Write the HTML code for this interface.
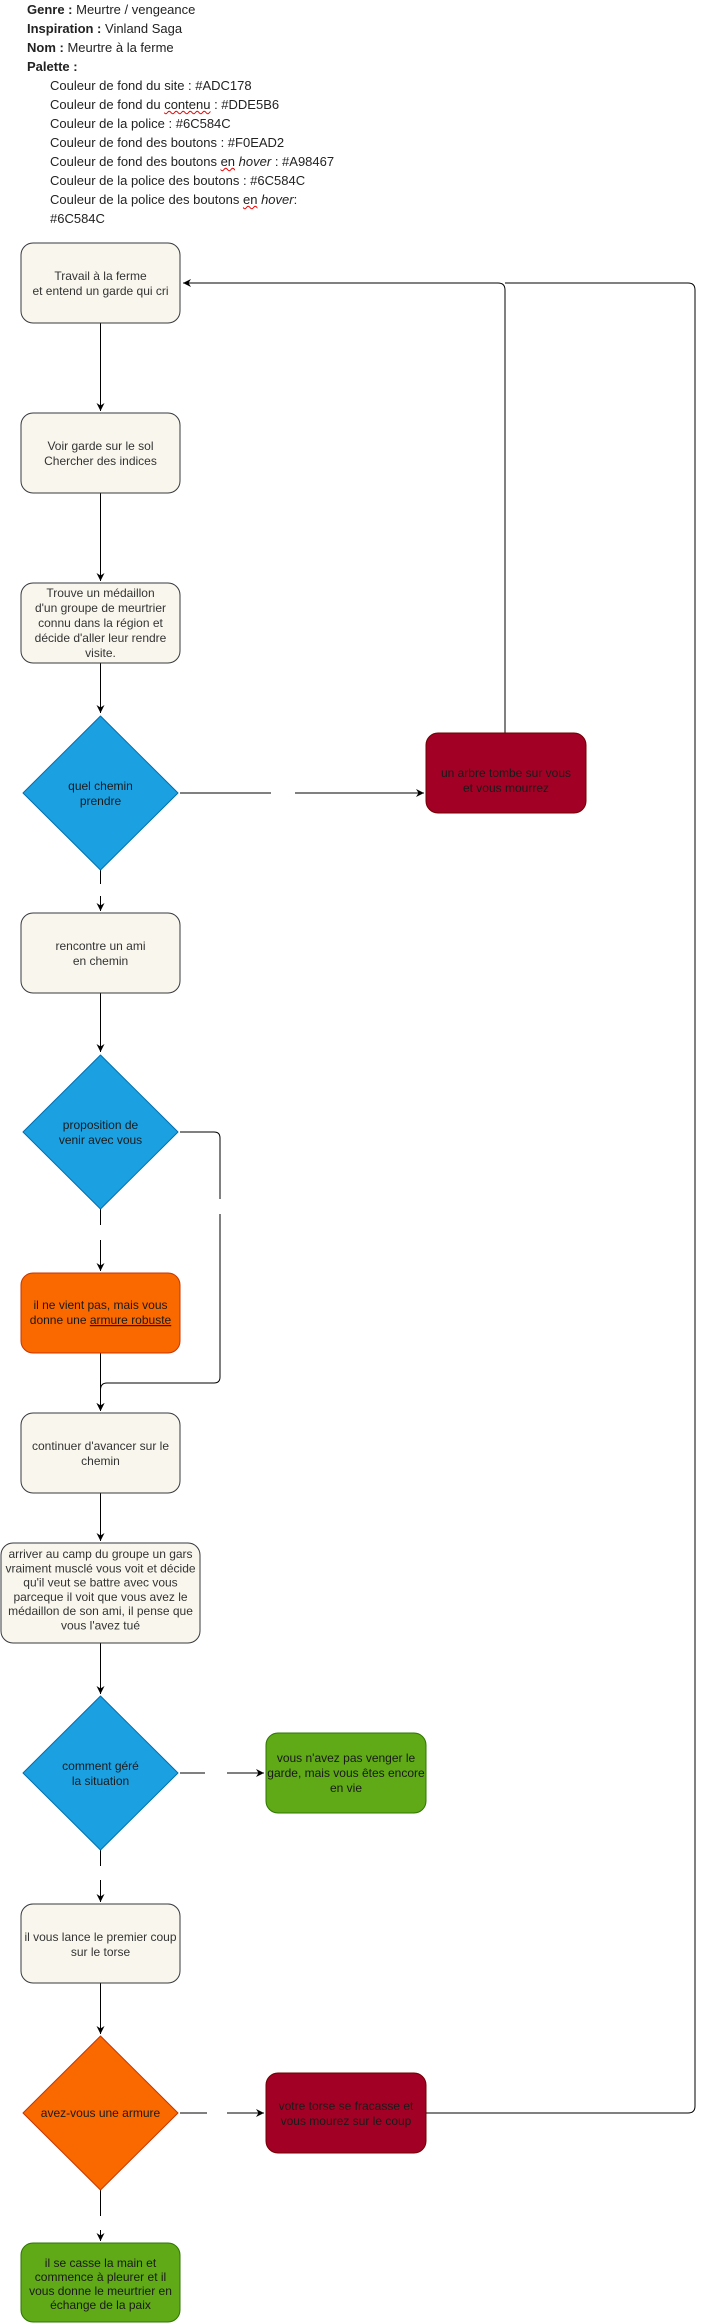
<!DOCTYPE html>
<html><head><meta charset="utf-8"><style>
html,body{margin:0;padding:0;background:#fff;width:704px;height:2324px;overflow:hidden}
.hd{position:absolute;left:0;top:0;font-family:"Liberation Sans",sans-serif;font-size:13px;color:#222}
.hd div{position:absolute;white-space:nowrap;line-height:19px}
.sq{text-decoration:underline wavy #e00;text-decoration-thickness:1px}
svg{position:absolute;left:0;top:0}
</style></head><body>
<div class="hd">
<div style="left:27px;top:0"><b>Genre :</b> Meurtre / vengeance</div>
<div style="left:27px;top:19px"><b>Inspiration :</b> Vinland Saga</div>
<div style="left:27px;top:38px"><b>Nom :</b> Meurtre à la ferme</div>
<div style="left:27px;top:57px"><b>Palette :</b></div>
<div style="left:50px;top:76px">Couleur de fond du site : #ADC178</div>
<div style="left:50px;top:95px">Couleur de fond du <span class="sq">contenu</span> : #DDE5B6</div>
<div style="left:50px;top:114px">Couleur de la police : #6C584C</div>
<div style="left:50px;top:133px">Couleur de fond des boutons : #F0EAD2</div>
<div style="left:50px;top:152px">Couleur de fond des boutons <span class="sq">en</span> <i>hover</i> : #A98467</div>
<div style="left:50px;top:171px">Couleur de la police des boutons : #6C584C</div>
<div style="left:50px;top:190px">Couleur de la police des boutons <span class="sq">en</span> <i>hover</i>:</div>
<div style="left:50px;top:209px">#6C584C</div>
</div>
<svg width="704" height="2324" viewBox="0 0 704 2324" font-family="Liberation Sans, sans-serif" font-size="12">
<defs><marker id="a" markerWidth="10" markerHeight="10" refX="8" refY="5" orient="auto" markerUnits="userSpaceOnUse"><path d="M0,1 L8,5 L0,9 L2.5,5 Z" fill="#000"/></marker></defs>
<g fill="none" stroke="#000" stroke-width="1">
<path d="M100.5 323 V411" marker-end="url(#a)"/>
<path d="M100.5 493 V581" marker-end="url(#a)"/>
<path d="M100.5 663 V713" marker-end="url(#a)"/>
<path d="M100.5 870 V884 M100.5 896 V911" marker-end="url(#a)"/>
<path d="M180 793 H271 M295 793 H424" marker-end="url(#a)"/>
<path d="M505 733 V290 Q505 283 498 283 H183" marker-end="url(#a)"/>
<path d="M426 2113 H688 Q695 2113 695 2106 V290 Q695 283 688 283 H505"/>
<path d="M100.5 993 V1052" marker-end="url(#a)"/>
<path d="M180 1132 H214 Q220 1132 220 1138 V1199 M220 1214 V1377 Q220 1383 214 1383 H107 Q100.5 1383 100.5 1390 V1411" marker-end="url(#a)"/>
<path d="M100.5 1209 V1225 M100.5 1240 V1271" marker-end="url(#a)"/>
<path d="M100.5 1353 V1411" marker-end="url(#a)"/>
<path d="M100.5 1493 V1541" marker-end="url(#a)"/>
<path d="M100.5 1643 V1694" marker-end="url(#a)"/>
<path d="M180 1773 H205 M227 1773 H264" marker-end="url(#a)"/>
<path d="M100.5 1850 V1866 M100.5 1880 V1902" marker-end="url(#a)"/>
<path d="M100.5 1983 V2034" marker-end="url(#a)"/>
<path d="M180 2113 H207 M227 2113 H264" marker-end="url(#a)"/>
<path d="M100.5 2190 V2216 M100.5 2230 V2241" marker-end="url(#a)"/>
</g>
<g stroke-width="1">
<rect x="21" y="243" width="159" height="80" rx="12" fill="#f9f7ed" stroke="#36393d"/>
<rect x="21" y="413" width="159" height="80" rx="12" fill="#f9f7ed" stroke="#36393d"/>
<rect x="21" y="583" width="159" height="80" rx="12" fill="#f9f7ed" stroke="#36393d"/>
<path d="M100.5 716 L178 793 L100.5 870 L23 793 Z" fill="#1ba1e2" stroke="#006eaf" stroke-linejoin="round"/>
<rect x="426" y="733" width="160" height="80" rx="12" fill="#a20025" stroke="#6f0000"/>
<rect x="21" y="913" width="159" height="80" rx="12" fill="#f9f7ed" stroke="#36393d"/>
<path d="M100.5 1055 L178 1132 L100.5 1209 L23 1132 Z" fill="#1ba1e2" stroke="#006eaf" stroke-linejoin="round"/>
<rect x="21" y="1273" width="159" height="80" rx="12" fill="#fa6800" stroke="#c73500"/>
<rect x="21" y="1413" width="159" height="80" rx="12" fill="#f9f7ed" stroke="#36393d"/>
<rect x="1" y="1543" width="199" height="100" rx="12" fill="#f9f7ed" stroke="#36393d"/>
<path d="M100.5 1696 L178 1773 L100.5 1850 L23 1773 Z" fill="#1ba1e2" stroke="#006eaf" stroke-linejoin="round"/>
<rect x="266" y="1733" width="160" height="80" rx="12" fill="#60a917" stroke="#2d7600"/>
<rect x="21" y="1904" width="159" height="79" rx="12" fill="#f9f7ed" stroke="#36393d"/>
<path d="M100.5 2036 L178 2113 L100.5 2190 L23 2113 Z" fill="#fa6800" stroke="#c73500" stroke-linejoin="round"/>
<rect x="266" y="2073" width="160" height="80" rx="12" fill="#a20025" stroke="#6f0000"/>
<rect x="21" y="2243" width="159" height="79" rx="12" fill="#60a917" stroke="#2d7600"/>
</g>
<g text-anchor="middle" fill="#333">
<text x="100.5" y="280">Travail à la ferme<tspan x="100.5" dy="15">et entend un garde qui cri</tspan></text>
<text x="100.5" y="450">Voir garde sur le sol<tspan x="100.5" dy="15">Chercher des indices</tspan></text>
<text x="100.5" y="597">Trouve un médaillon<tspan x="100.5" dy="15">d'un groupe de meurtrier</tspan><tspan x="100.5" dy="15">connu dans la région et</tspan><tspan x="100.5" dy="15">décide d'aller leur rendre</tspan><tspan x="100.5" dy="15">visite.</tspan></text>
<text x="100.5" y="950">rencontre un ami<tspan x="100.5" dy="15">en chemin</tspan></text>
<text x="100.5" y="1450">continuer d'avancer sur le<tspan x="100.5" dy="15">chemin</tspan></text>
<text x="100.5" y="1558">arriver au camp du groupe un gars<tspan x="100.5" dy="14.3">vraiment musclé vous voit et décide</tspan><tspan x="100.5" dy="14.3">qu'il veut se battre avec vous</tspan><tspan x="100.5" dy="14.3">parceque il voit que vous avez le</tspan><tspan x="100.5" dy="14.3">médaillon de son ami, il pense que</tspan><tspan x="100.5" dy="14.3">vous l'avez tué</tspan></text>
<text x="100.5" y="1941">il vous lance le premier coup<tspan x="100.5" dy="15">sur le torse</tspan></text>
</g>
<g text-anchor="middle" fill="#1a1a1a">
<text x="100.5" y="790">quel chemin<tspan x="100.5" dy="15">prendre</tspan></text>
<text x="506" y="777">un arbre tombe sur vous<tspan x="506" dy="15">et vous mourrez</tspan></text>
<text x="100.5" y="1129">proposition de<tspan x="100.5" dy="15">venir avec vous</tspan></text>
<text x="100.5" y="1309">il ne vient pas, mais vous<tspan x="100.5" dy="15">donne une <tspan text-decoration="underline">armure robuste</tspan></tspan></text>
<text x="100.5" y="1770">comment géré<tspan x="100.5" dy="15">la situation</tspan></text>
<text x="346" y="1762">vous n'avez pas venger le<tspan x="346" dy="15">garde, mais vous êtes encore</tspan><tspan x="346" dy="15">en vie</tspan></text>
<text x="100.5" y="2117">avez-vous une armure</text>
<text x="346" y="2110">votre torse se fracasse et<tspan x="346" dy="15">vous mourez sur le coup</tspan></text>
<text x="100.5" y="2267">il se casse la main et<tspan x="100.5" dy="14">commence à pleurer et il</tspan><tspan x="100.5" dy="14">vous donne le meurtrier en</tspan><tspan x="100.5" dy="14">échange de la paix</tspan></text>
</g>
</svg>
</body></html>
